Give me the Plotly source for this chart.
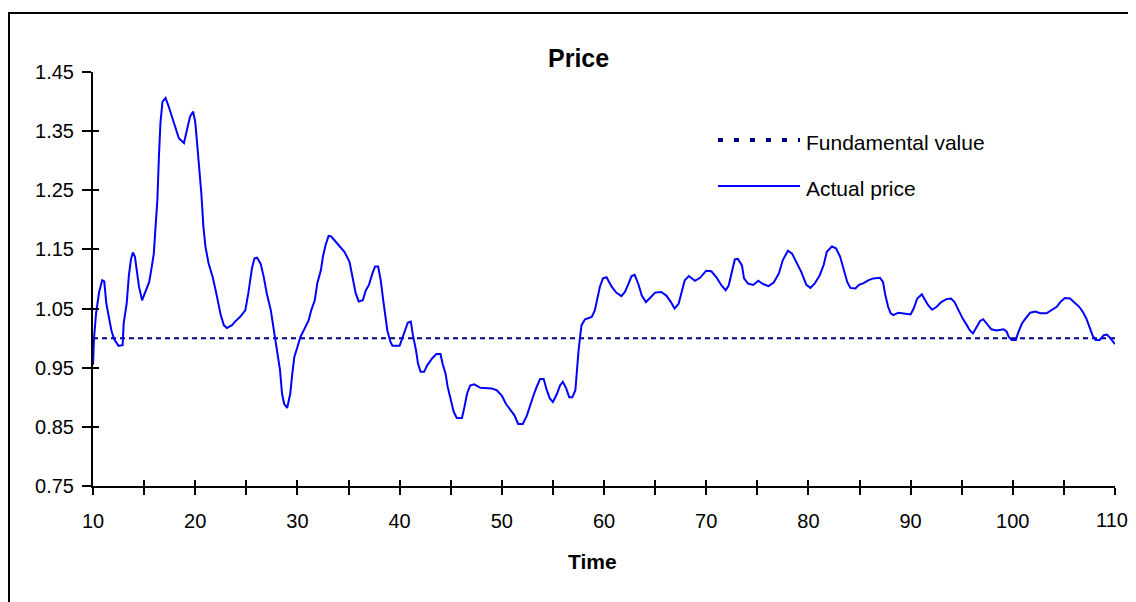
import plotly.graph_objects as go

# ---- data ----
time = [10.0, 10.1, 10.3, 10.6, 10.9, 11.1, 11.3, 11.55, 11.8, 12.05, 12.5, 12.9, 13.0, 13.3, 13.5, 13.7, 13.9, 14.1, 14.3, 14.5,
        14.8, 15.1, 15.5, 15.7, 15.95, 16.1, 16.3, 16.45, 16.6, 16.8, 17.1, 17.4, 17.75, 18.1, 18.4, 18.9, 19.15, 19.5, 19.8, 20.0,
        20.2, 20.4, 20.6, 20.8, 21.0, 21.3, 21.7, 22.0, 22.25, 22.5, 22.8, 23.1, 23.6, 23.9, 24.4, 24.9, 25.2, 25.55, 25.8, 26.05,
        26.4, 26.7, 27.0, 27.4, 27.7, 28.0, 28.3, 28.5, 28.7, 29.0, 29.3, 29.5, 29.7, 30.0, 30.3, 30.7, 31.1, 31.35, 31.7, 31.95,
        32.3, 32.5, 32.75, 33.05, 33.3, 33.9, 34.6, 35.1, 35.4, 35.7, 36.0, 36.4, 36.7, 37.0, 37.35, 37.6, 37.9, 38.15, 38.4, 38.6,
        38.8, 39.1, 39.3, 40.0, 40.3, 40.6, 40.8, 41.1, 41.3, 41.6, 41.8, 42.05, 42.4, 42.7, 43.2, 43.6, 44.0, 44.2, 44.5, 44.7,
        45.0, 45.3, 45.6, 46.1, 46.35, 46.6, 46.9, 47.3, 47.9, 49.0, 49.5, 50.0, 50.4, 50.8, 51.25, 51.6, 52.05, 52.45, 52.8, 53.1,
        53.4, 53.75, 54.1, 54.4, 54.7, 55.0, 55.4, 55.7, 55.97, 56.3, 56.6, 56.9, 57.2, 57.3, 57.5, 57.66, 57.8, 58.15, 58.8, 59.1,
        59.35, 59.6, 59.9, 60.25, 60.75, 61.2, 61.7, 62.05, 62.4, 62.7, 63.0, 63.35, 63.7, 64.1, 64.5, 65.0, 65.6, 66.1, 66.55, 66.9,
        67.3, 67.6, 67.9, 68.3, 68.9, 69.4, 70.0, 70.5, 71.0, 71.5, 71.9, 72.2, 72.5, 72.8, 73.1, 73.5, 73.7, 74.1, 74.6, 75.1,
        75.5, 76.1, 76.6, 77.1, 77.5, 78.0, 78.4, 78.85, 79.3, 79.8, 80.2, 80.6, 81.1, 81.5, 81.8, 82.3, 82.7, 83.1, 83.5, 83.8,
        84.1, 84.6, 84.95, 85.4, 85.9, 86.35, 87.0, 87.3, 87.5, 87.8, 88.05, 88.3, 88.8, 89.45, 90.0, 90.3, 90.65, 91.1, 91.4, 91.7,
        92.1, 92.55, 93.0, 93.5, 93.95, 94.3, 94.7, 95.1, 95.5, 95.8, 96.1, 96.5, 96.8, 97.1, 97.5, 97.9, 98.4, 99.1, 99.4, 99.6,
        99.9, 100.3, 100.5, 100.9, 101.2, 101.7, 102.2, 102.7, 103.3, 103.8, 104.3, 104.7, 105.1, 105.6, 106.1, 106.5, 106.9, 107.2, 107.5, 107.8,
        108.1, 108.5, 108.9, 109.2, 109.5, 109.8, 110.0]

actual_price = [0.955, 1.000, 1.042, 1.078, 1.098, 1.096, 1.059, 1.033, 1.013, 0.999, 0.987, 0.988, 1.025, 1.059, 1.104, 1.132, 1.145, 1.138, 1.115, 1.087,
                1.064, 1.076, 1.095, 1.115, 1.143, 1.183, 1.234, 1.307, 1.364, 1.400, 1.406, 1.392, 1.372, 1.352, 1.338, 1.330, 1.350, 1.375, 1.383, 1.366,
                1.327, 1.290, 1.245, 1.189, 1.155, 1.127, 1.104, 1.081, 1.059, 1.039, 1.022, 1.017, 1.022, 1.028, 1.036, 1.047, 1.076, 1.118, 1.135, 1.136,
                1.126, 1.104, 1.076, 1.047, 1.013, 0.980, 0.946, 0.906, 0.889, 0.882, 0.906, 0.940, 0.968, 0.985, 1.002, 1.016, 1.030, 1.047, 1.064, 1.093,
                1.115, 1.138, 1.157, 1.173, 1.172, 1.160, 1.146, 1.129, 1.104, 1.076, 1.062, 1.064, 1.081, 1.090, 1.110, 1.121, 1.121, 1.098, 1.064, 1.036,
                1.013, 0.994, 0.987, 0.987, 1.002, 1.016, 1.026, 1.028, 1.005, 0.980, 0.957, 0.943, 0.943, 0.954, 0.966, 0.973, 0.973, 0.957, 0.940, 0.918,
                0.895, 0.875, 0.865, 0.865, 0.884, 0.906, 0.920, 0.922, 0.916, 0.915, 0.912, 0.903, 0.889, 0.880, 0.869, 0.855, 0.855, 0.869, 0.889, 0.903,
                0.917, 0.931, 0.931, 0.912, 0.898, 0.892, 0.906, 0.920, 0.926, 0.915, 0.900, 0.900, 0.912, 0.940, 0.977, 1.002, 1.022, 1.032, 1.036, 1.047,
                1.070, 1.087, 1.101, 1.103, 1.087, 1.077, 1.071, 1.078, 1.092, 1.105, 1.107, 1.092, 1.072, 1.061, 1.068, 1.077, 1.078, 1.072, 1.061, 1.050,
                1.058, 1.078, 1.098, 1.105, 1.097, 1.102, 1.114, 1.113, 1.103, 1.089, 1.081, 1.089, 1.112, 1.133, 1.134, 1.123, 1.101, 1.092, 1.090, 1.097,
                1.092, 1.088, 1.094, 1.109, 1.132, 1.148, 1.143, 1.126, 1.112, 1.090, 1.085, 1.092, 1.106, 1.124, 1.146, 1.155, 1.152, 1.138, 1.115, 1.095,
                1.085, 1.084, 1.090, 1.093, 1.098, 1.101, 1.102, 1.095, 1.075, 1.053, 1.042, 1.039, 1.043, 1.042, 1.040, 1.050, 1.067, 1.074, 1.064, 1.056,
                1.048, 1.053, 1.061, 1.066, 1.067, 1.061, 1.047, 1.033, 1.022, 1.013, 1.008, 1.019, 1.029, 1.032, 1.024, 1.015, 1.013, 1.015, 1.011, 1.002,
                0.997, 0.997, 1.008, 1.025, 1.032, 1.043, 1.045, 1.042, 1.042, 1.047, 1.053, 1.062, 1.068, 1.067, 1.060, 1.053, 1.043, 1.033, 1.019, 1.005,
                0.997, 0.997, 1.005, 1.006, 1.001, 0.995, 0.990]

fundamental_time = [10, 110]
fundamental_value = [1.0, 1.0]

x_tickvals = [10, 15, 20, 25, 30, 35, 40, 45, 50, 55, 60, 65, 70, 75, 80, 85, 90, 95, 100, 105, 110]
x_ticktext = ["10", "", "20", "", "30", "", "40", "", "50", "", "60", "", "70", "", "80", "", "90", "", "100", "", ""]
x_last_label = (110, "110")   # drawn separately, it sits on the right edge of the page
y_tickvals = [0.75, 0.85, 0.95, 1.05, 1.15, 1.25, 1.35, 1.45]
y_ticktext = ["0.75", "0.85", "0.95", "1.05", "1.15", "1.25", "1.35", "1.45"]

FONT = "Liberation Sans, Arial, sans-serif"
NAVY = "#000080"
BLUE = "#0000FF"

fig = go.Figure()
fig.add_trace(go.Scatter(x=fundamental_time, y=fundamental_value, mode="lines", name="Fundamental value",
                         line=dict(color=NAVY, width=2, dash="5px,4px"), showlegend=False))
fig.add_trace(go.Scatter(x=time, y=actual_price, mode="lines", name="Actual price",
                         line=dict(color=BLUE, width=2), showlegend=False))
# invisible trace to carry the overlay axes (inner half of crossing ticks)
fig.add_trace(go.Scatter(x=[None], y=[None], xaxis="x2", yaxis="y2", showlegend=False, hoverinfo="skip"))

axis_common = dict(showgrid=False, zeroline=False, showline=True, linecolor="black", linewidth=2,
                   tickcolor="black", tickwidth=2, tickfont=dict(family=FONT, size=20, color="black"))

# page has an 8px body margin, so the figure starts at (8, 8) and is 1120 wide
fig.update_layout(
    width=1120, height=594,
    paper_bgcolor="white", plot_bgcolor="white",
    margin=dict(l=85, r=13, t=64, b=116),
    xaxis=dict(range=[10, 110], tickvals=x_tickvals, ticktext=x_ticktext, ticks="outside", ticklen=7,
               ticklabelstandoff=9, **axis_common),
    yaxis=dict(range=[0.75, 1.45], tickvals=y_tickvals, ticktext=y_ticktext, ticks="outside", ticklen=9,
               ticklabelstandoff=4, **axis_common),
    xaxis2=dict(range=[10, 110], overlaying="x", anchor="y", side="bottom", tickvals=x_tickvals,
                showticklabels=False, ticks="inside", ticklen=6, showgrid=False, zeroline=False,
                showline=False, tickcolor="black", tickwidth=2),
    yaxis2=dict(range=[0.75, 1.45], overlaying="y", anchor="x", side="left", tickvals=y_tickvals,
                showticklabels=False, ticks="inside", ticklen=6, showgrid=False, zeroline=False,
                showline=False, tickcolor="black", tickwidth=2),
    showlegend=False,
)

# convert page pixel positions to paper coordinates of the plot area (x 93..1115, y 72..486)
def px_x(px):
    return (px - 93) / 1022.0

def px_y(py):
    return (486 - py) / 414.0

shapes = [
    # outer chart frame
    dict(type="rect", xref="paper", yref="paper", x0=px_x(9), y0=-0.6, x1=1.2, y1=px_y(13),
         line=dict(color="black", width=2), fillcolor="rgba(0,0,0,0)", layer="below"),
    # legend samples
    dict(type="line", xref="paper", yref="paper", x0=px_x(718), x1=px_x(800), y0=px_y(140), y1=px_y(140),
         line=dict(color=NAVY, width=4, dash="5px,11px")),
    dict(type="line", xref="paper", yref="paper", x0=px_x(718), x1=px_x(800), y0=px_y(186), y1=px_y(186),
         line=dict(color=BLUE, width=2)),
]
annotations = [
    dict(text="<b>Price</b>", xref="paper", yref="paper", x=px_x(578), y=px_y(58), showarrow=False,
         xanchor="center", yanchor="middle", font=dict(family=FONT, size=25, color="black")),
    dict(text="<b>Time</b>", xref="paper", yref="paper", x=px_x(592), y=px_y(561), showarrow=False,
         xanchor="center", yanchor="middle", font=dict(family=FONT, size=21, color="black")),
    dict(text="Fundamental value", xref="paper", yref="paper", x=px_x(804), y=px_y(142), showarrow=False,
         xanchor="left", yanchor="middle", font=dict(family=FONT, size=21, color="black")),
    dict(text="Actual price", xref="paper", yref="paper", x=px_x(804), y=px_y(188), showarrow=False,
         xanchor="left", yanchor="middle", font=dict(family=FONT, size=21, color="black")),
    dict(text=x_last_label[1], xref="x", yref="paper", x=x_last_label[0], y=px_y(520), showarrow=False,
         xanchor="center", yanchor="middle", xshift=-3, font=dict(family=FONT, size=20, color="black")),
]
fig.update_layout(shapes=shapes, annotations=annotations)

fig.write_html("out.html")
